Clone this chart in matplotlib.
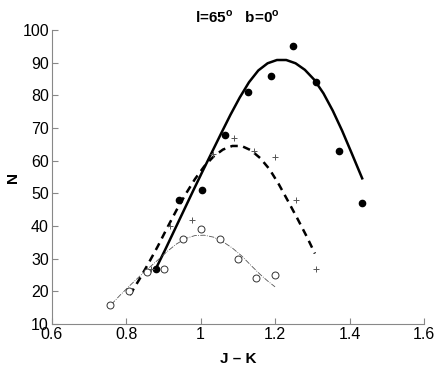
import matplotlib
matplotlib.use("Agg")
import matplotlib.pyplot as plt

plt.rcParams['font.family'] = ['Liberation Sans', 'DejaVu Sans']
plt.rcParams['mathtext.fontset'] = 'custom'
plt.rcParams['mathtext.bf'] = 'Liberation Sans:bold'
plt.rcParams['mathtext.rm'] = 'Liberation Sans'

# filled circles
jk_filled = [0.88, 0.942, 1.003, 1.065, 1.126, 1.188, 1.249, 1.311, 1.373, 1.434]
n_filled = [27, 48, 51, 68, 81, 86, 95, 84, 63, 47]

# crosses
jk_cross = [0.81, 0.866, 0.918, 0.978, 1.034, 1.09, 1.143, 1.2, 1.256, 1.311]
n_cross = [20, 27, 40, 42, 62, 67, 63, 61, 48, 27]

# open circles
jk_open = [0.756, 0.807, 0.855, 0.903, 0.953, 1.002, 1.051, 1.10, 1.15, 1.199]
n_open = [16, 20, 26, 27, 36, 39, 36, 30, 24, 25]

# fitted curves
fit1_x = [0.88, 0.905, 0.93, 0.955, 0.98, 1.005, 1.03, 1.055, 1.08, 1.105, 1.13, 1.155,
          1.18, 1.205, 1.23, 1.255, 1.28, 1.305, 1.33, 1.355, 1.38, 1.405, 1.434]
fit1_y = [27, 32.8, 38.8, 44.8, 50.8, 56.7, 62.5, 68.3, 74, 79.3, 84, 87.6,
          89.8, 90.8, 90.8, 89.8, 87.8, 84.8, 80.6, 75.3, 69.2, 62.5, 54.6]

fit2_x = [0.81, 0.835, 0.86, 0.885, 0.91, 0.935, 0.96, 0.985, 1.01, 1.035, 1.06,
          1.085, 1.11, 1.135, 1.16, 1.185, 1.21, 1.235, 1.26, 1.285, 1.307]
fit2_y = [18.9, 23.6, 28.6, 33.8, 39.4, 44.8, 49.8, 54.4, 58.3, 61.3, 63.4,
          64.5, 64.5, 63.2, 60.8, 57.4, 52.8, 47.6, 42.3, 36.8, 31.6]

fit3_x = [0.76, 0.785, 0.81, 0.835, 0.86, 0.885, 0.91, 0.935, 0.96, 0.985, 1.01,
          1.035, 1.06, 1.085, 1.11, 1.135, 1.16, 1.18, 1.20]
fit3_y = [16, 19, 21.8, 24.5, 27.1, 29.6, 32.2, 34.5, 36.2, 37.1, 37.2,
          36.6, 35.2, 33.3, 30.9, 28.0, 25.2, 23.2, 21.4]

fig = plt.figure(figsize=(4.38, 3.65), dpi=100)
ax = fig.add_axes([0.118, 0.112, 0.850, 0.806])

ax.plot(fit1_x, fit1_y, '-', color='black', lw=1.8, solid_joinstyle='round')
ax.plot(fit2_x, fit2_y, '--', color='black', lw=1.8, dashes=(3, 2.2))
ax.plot(fit3_x, fit3_y, '-.', color='#555555', lw=0.6)

ax.plot(jk_filled, n_filled, 'o', color='black', ms=4.5)
ax.plot(jk_cross, n_cross, '+', color='#555555', ms=5, mew=0.7)
ax.plot(jk_open, n_open, 'o', mfc='white', mec='#333333', ms=5, mew=0.7)

ax.set_xlim(0.6, 1.6)
ax.set_ylim(10, 100)
ax.set_xticks([0.6, 0.8, 1.0, 1.2, 1.4, 1.6])
ax.set_xticklabels(['0.6', '0.8', '1', '1.2', '1.4', '1.6'])
ax.set_yticks(range(10, 101, 10))

for side in ['top', 'right']:
    ax.spines[side].set_visible(False)
for side in ['left', 'bottom']:
    ax.spines[side].set_color('#888888')
    ax.spines[side].set_linewidth(0.8)
ax.tick_params(direction='in', length=4, color='#888888', labelsize=11.5, pad=2)

ax.set_xlabel('J – K', fontsize=11, fontweight='bold', labelpad=7)
ax.set_ylabel('N', fontsize=11, fontweight='bold', labelpad=2)
ax.set_title(r'l=65$^\mathbf{o}$   b=0$^\mathbf{o}$', fontsize=11, fontweight='bold', pad=5)

fig.savefig('out.png', dpi=100)
